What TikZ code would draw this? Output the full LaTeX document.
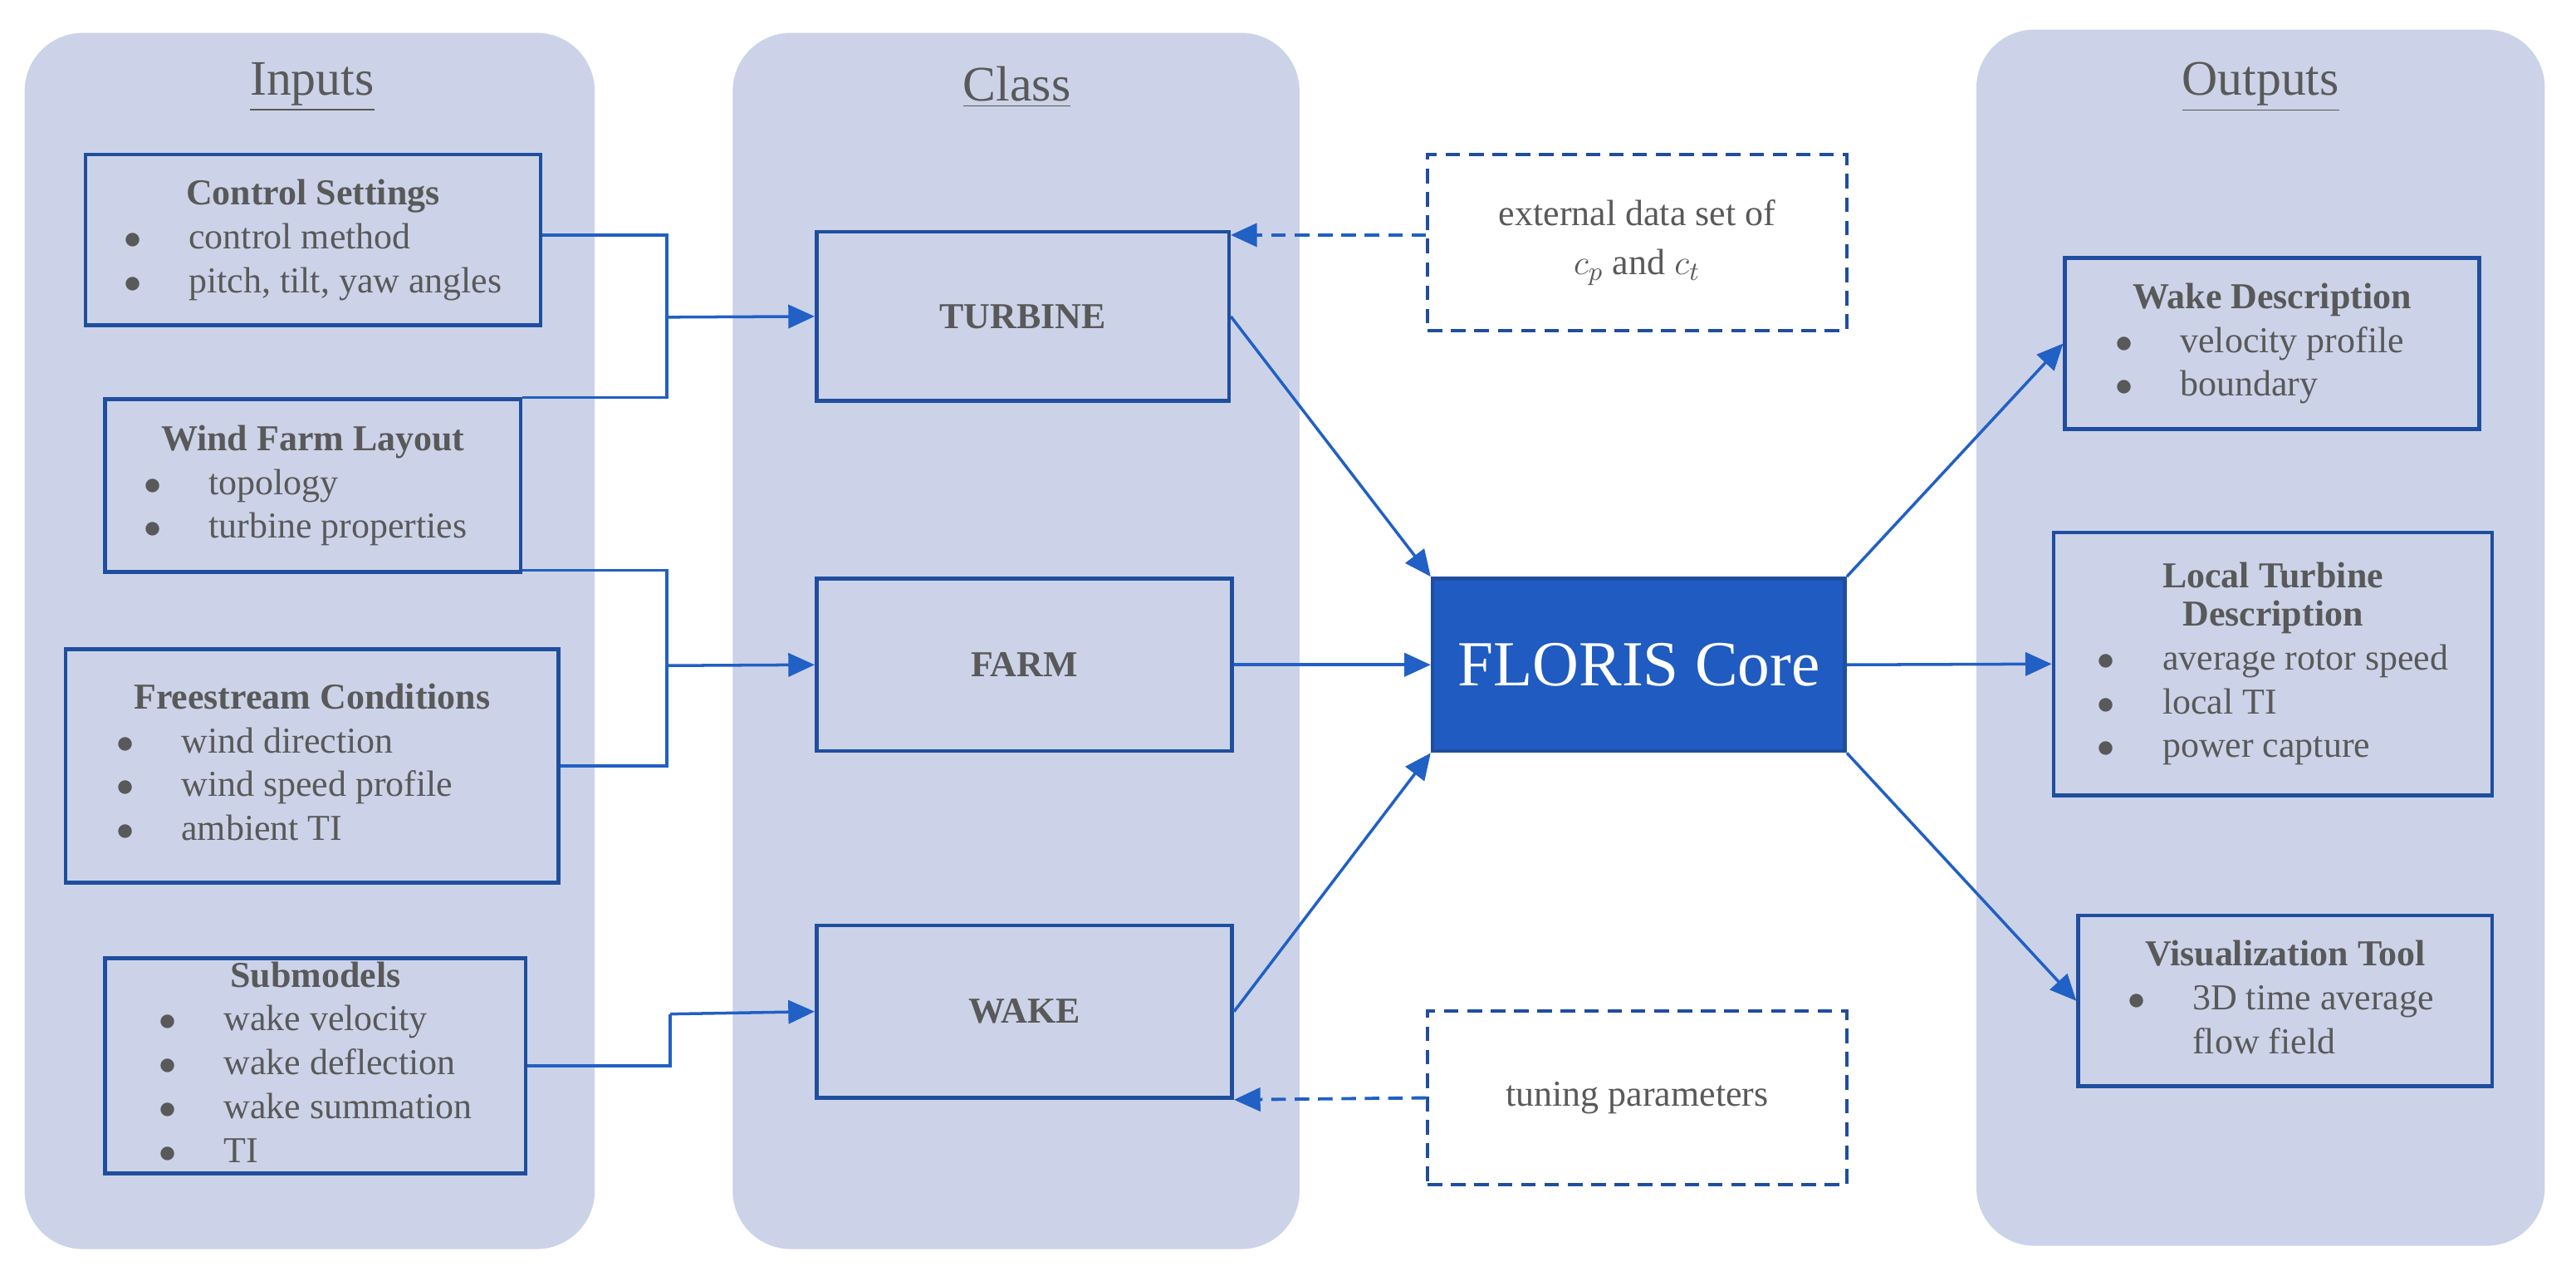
\documentclass[tikz,border=0pt]{standalone}
\usepackage{fontspec}
\setmainfont{Liberation Serif}
\usetikzlibrary{arrows.meta,fit}
\definecolor{panel}{HTML}{CCD3E8}
\definecolor{bord}{HTML}{1F4E9F}
\definecolor{arr}{HTML}{2160C4}
\definecolor{core}{HTML}{1F5BC0}
\definecolor{txt}{HTML}{595959}
\begin{document}
\begin{tikzpicture}[x=0.01978cm,y=-0.01978cm,
  panel/.style={fill=panel,draw=none,rounded corners=0.7cm},
  box/.style={draw=bord,line width=1.3pt,inner sep=0pt},
  dbox/.style={draw=bord,line width=1.1pt,dash pattern=on 5pt off 3pt,inner sep=0pt},
  t/.style={text=txt,font=\fontsize{12.5}{15}\selectfont,inner sep=0pt},
  ttl/.style={text=txt,font=\fontsize{17}{20}\selectfont},
  con/.style={draw=arr,line width=1pt,-{Triangle[length=9pt,width=8pt]}},
  lin/.style={draw=arr,line width=1pt},
  dcon/.style={draw=arr,line width=1.1pt,dash pattern=on 5pt off 3pt,-{Triangle[length=9pt,width=8pt]}}]
\useasboundingbox (0,0) rectangle (1568,776);
% panels
\fill[panel] (15,20) rectangle (362,760);
\fill[panel] (446,20) rectangle (791,760);
\fill[panel] (1203,18) rectangle (1549,758);
\node[ttl] (ti) at (190,53) {\underline{Inputs}};
\node[ttl] (tc) at (619,53) {\underline{Class}};
\node[ttl] (to) at (1376,53) {\underline{Outputs}};
% coordinates
\coordinate (cs1) at (52,94); \coordinate (cs2) at (329,198);
\coordinate (wf1) at (64,243); \coordinate (wf2) at (317,348);
\coordinate (fs1) at (40,395); \coordinate (fs2) at (340,537);
\coordinate (sm1) at (64,583); \coordinate (sm2) at (320,714);
\coordinate (tu1) at (497,141); \coordinate (tu2) at (748,244);
\coordinate (fa1) at (497,352); \coordinate (fa2) at (750,457);
\coordinate (wk1) at (497,563); \coordinate (wk2) at (750,668);
\coordinate (ex1) at (869,94); \coordinate (ex2) at (1124,201);
\coordinate (tp1) at (869,615); \coordinate (tp2) at (1124,721);
\coordinate (co1) at (872,352); \coordinate (co2) at (1123,457);
\coordinate (wd1) at (1257,157); \coordinate (wd2) at (1509,261);
\coordinate (lt1) at (1250,324); \coordinate (lt2) at (1517,484);
\coordinate (vt1) at (1265,557); \coordinate (vt2) at (1517,661);
% boxes
\node[box,fit=(cs1)(cs2)] (cs) {};
\node[box,fit=(wf1)(wf2)] (wf) {};
\node[box,fit=(fs1)(fs2)] (fs) {};
\node[box,fit=(sm1)(sm2)] (sm) {};
\node[box,fit=(tu1)(tu2)] (tu) {};
\node[box,fit=(fa1)(fa2)] (fa) {};
\node[box,fit=(wk1)(wk2)] (wk) {};
\node[dbox,fit=(ex1)(ex2)] (ex) {};
\node[dbox,fit=(tp1)(tp2)] (tp) {};
\node[box,fill=core,fit=(co1)(co2)] (co) {};
\node[box,fit=(wd1)(wd2)] (wd) {};
\node[box,fit=(lt1)(lt2)] (lt) {};
\node[box,fit=(vt1)(vt2)] (vt) {};
% texts
\node[t] (cst) at (cs.center) {\begin{tabular}{@{}l@{\hspace{1.3em}}l@{}}\multicolumn{2}{c}{\textbf{Control Settings}}\\ $\bullet$ & control method\\ $\bullet$ & pitch, tilt, yaw angles\end{tabular}};
\node[t] (wft) at (wf.center) {\begin{tabular}{@{}l@{\hspace{1.3em}}l@{}}\multicolumn{2}{c}{\textbf{Wind Farm Layout}}\\ $\bullet$ & topology\\ $\bullet$ & turbine properties\end{tabular}};
\node[t] (fst) at (fs.center) {\begin{tabular}{@{}l@{\hspace{1.3em}}l@{}}\multicolumn{2}{c}{\textbf{Freestream Conditions}}\\ $\bullet$ & wind direction\\ $\bullet$ & wind speed profile\\ $\bullet$ & ambient TI\end{tabular}};
\node[t] (smt) at (sm.center) {\begin{tabular}{@{}l@{\hspace{1.3em}}l@{}}\multicolumn{2}{c}{\textbf{Submodels}}\\ $\bullet$ & wake velocity\\ $\bullet$ & wake deflection\\ $\bullet$ & wake summation\\ $\bullet$ & TI\end{tabular}};
\node[t,font=\bfseries\fontsize{12.5}{15}\selectfont] (tut) at (tu.center) {TURBINE};
\node[t,font=\bfseries\fontsize{12.5}{15}\selectfont] (fat) at (fa.center) {FARM};
\node[t,font=\bfseries\fontsize{12.5}{15}\selectfont] (wkt) at (wk.center) {WAKE};
\node[t,align=center] (ext) at (ex.center) {external data set of\\[2pt] $c_p$ and $c_t$};
\node[t] (tpt) at (tp.center) {tuning parameters};
\node[text=white,font=\fontsize{22}{26}\selectfont] (cot) at (co.center) {FLORIS Core};
\node[t] (wdt) at (wd.center) {\begin{tabular}{@{}l@{\hspace{1.3em}}l@{}}\multicolumn{2}{c}{\textbf{Wake Description}}\\ $\bullet$ & velocity profile\\ $\bullet$ & boundary\end{tabular}};
\node[t] (ltt) at (lt.center) {\begin{tabular}{@{}l@{\hspace{1.3em}}l@{}}\multicolumn{2}{c}{\textbf{Local Turbine}}\\[-2pt] \multicolumn{2}{c}{\textbf{Description}}\\ $\bullet$ & average rotor speed\\ $\bullet$ & local TI\\ $\bullet$ & power capture\end{tabular}};
\node[t] (vtt) at (vt.center) {\begin{tabular}{@{}l@{\hspace{1.3em}}l@{}}\multicolumn{2}{c}{\textbf{Visualization Tool}}\\ $\bullet$ & 3D time average\\ & flow field\end{tabular}};
% elbow connectors
\coordinate (j1) at (406,193);
\coordinate (j2) at (406,405);
\coordinate (j3) at (408,617);
\draw[lin] (cs.east |- 0,143) -| (j1);
\draw[lin] (wf.north east) -| (j1);
\draw[con] (j1) -- (tu.west);
\draw[lin] (wf.east |- 0,347) -| (j2);
\draw[lin] (fs.east) -| (j2);
\draw[con] (j2) -- (fa.west);
\draw[lin] (sm.east) -| (j3);
\draw[con] (j3) -- (wk.west);
% to core
\draw[con] (tu.east) -- (co.north west);
\draw[con] (fa.east) -- (co.west);
\draw[con] (wk.east) -- (co.south west);
\draw[con] (co.north east) -- (wd.west);
\draw[con] (co.east) -- (lt.west);
\draw[con] (co.south east) -- (vt.west);
% dashed
\draw[dcon] (ex.west |- 0,143) -- (tu.north east |- 0,143);
\draw[dcon] (tp.west |- 0,668) -- (wk.south east);
\end{tikzpicture}
\end{document}
